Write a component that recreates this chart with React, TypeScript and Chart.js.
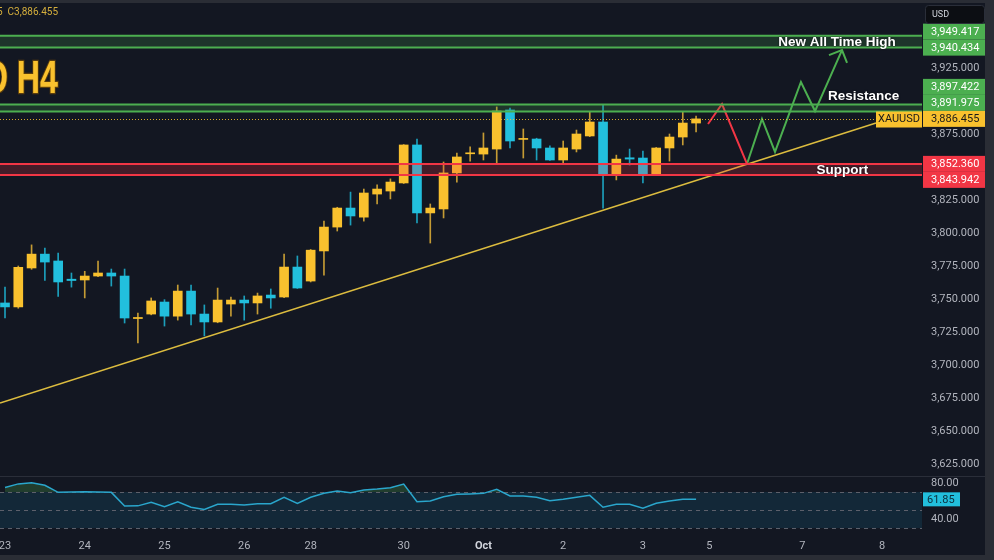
import React, { useEffect, useRef } from "react";
import { Chart, registerables } from "chart.js";

Chart.register(...registerables);

// ---------------- data ----------------
const dayTickIndex = [0, 6, 12, 18, 23, 30, 36, 42, 48, 53, 60, 66];
const dayTickLabels = ["23", "24", "25", "26", "28", "30", "Oct", "2", "3", "5", "7", "8"];
const priceTickValues = [3625, 3650, 3675, 3700, 3725, 3750, 3775, 3800, 3825, 3850, 3875, 3900, 3925, 3950];

const opens = [3747, 3744, 3773.5, 3784, 3778.8, 3765, 3764.4, 3767.4, 3769.7, 3767.4,
  3735.2, 3738.6, 3747.7, 3737, 3756, 3738.6, 3732.6, 3746.2, 3749.2, 3747,
  3753, 3751.5, 3774.2, 3763.6, 3786.4, 3804.5, 3818.9, 3812, 3829.5, 3831.8,
  3837.9, 3866.7, 3815.2, 3818.2, 3845.5, 3860, 3859.8, 3863.6, 3893.2, 3870.9,
  3871.2, 3864.4, 3855.3, 3863.6, 3873.5, 3884.1, 3844.7, 3857, 3856.8, 3843.9,
  3864.4, 3872.7, 3883.3];
const highs = [3759, 3775, 3791, 3788.6, 3784.8, 3769.7, 3771, 3778.8, 3772.7, 3772.7,
  3739.4, 3750.8, 3749.5, 3760.6, 3760.6, 3745.5, 3758.3, 3751.5, 3752.3, 3754.5,
  3757.6, 3784, 3782.6, 3787.5, 3809, 3819.5, 3831, 3833.3, 3836.4, 3841,
  3867, 3871.2, 3822, 3853.8, 3860.6, 3865.2, 3875.8, 3895.5, 3894.7, 3878.8,
  3871.8, 3866, 3869.7, 3878, 3891.7, 3897.5, 3859, 3863.6, 3862, 3864.8,
  3875, 3891.7, 3888.6];
const lows = [3735.6, 3743, 3772.5, 3764, 3752, 3759, 3750.8, 3767, 3759.8, 3731.8,
  3716.7, 3738, 3729.5, 3734, 3730.3, 3722, 3732, 3737, 3734, 3738.6,
  3743, 3751, 3758, 3762.9, 3768, 3801.5, 3806, 3809, 3822, 3825.8,
  3837.5, 3807.6, 3792.4, 3811.4, 3838.6, 3854.5, 3855.3, 3853, 3864.4, 3856.8,
  3855.3, 3855, 3852.3, 3861.4, 3873, 3818.9, 3840.2, 3851.5, 3837.9, 3843.5,
  3854.5, 3866.7, 3876.5];
const closes = [3744, 3774, 3784, 3778, 3762.9, 3764, 3767.4, 3769.7, 3767.4, 3735.6,
  3736, 3748.5, 3737, 3756, 3738.6, 3732.6, 3749.2, 3749.2, 3747, 3752.3,
  3750.8, 3774.2, 3758.3, 3787, 3804.5, 3818.9, 3812.9, 3830.3, 3833.3, 3838.6,
  3866.7, 3815.2, 3818.9, 3845.5, 3857.6, 3860.6, 3864.4, 3892.4, 3869.7, 3871.5,
  3864.4, 3855.3, 3864.4, 3875, 3884.1, 3843.9, 3856, 3856, 3843.9, 3864.4,
  3872.7, 3883.3, 3886.455];
const rsiValues = [75, 79, 80.4, 77.5, 69.6, 70, 70.4, 70, 69.6, 54.4,
  54.6, 58.5, 53.7, 59.2, 53, 50.7, 56.3, 56.3, 55.6, 57,
  57, 64.1, 57.4, 64.1, 68.5, 71.1, 69.3, 72.2, 73.3, 74.8,
  78.9, 59.2, 60, 64.8, 67.4, 67.8, 68.5, 73, 65.6, 65.6,
  64.1, 60.4, 61.9, 64.1, 66.3, 53, 56.3, 56.3, 51.9, 57.4,
  60, 61.9, 61.85];

const trendIdx = [-0.376, 65.54];
const trendPrice = [3671.2, 3883.3];
const redPathIdx = [52.9, 53.95, 55.83];
const redPathPrice = [3882.6, 3897.7, 3852.3];
const greenPathIdx = [55.83, 56.96, 57.94, 59.89, 60.95, 62.98];
const greenPathPrice = [3852.3, 3886.4, 3861.4, 3914.4, 3892.4, 3938.6];
const arrowIdx = [62.0, 62.98, 63.36];
const arrowPrice = [3934.8, 3938.6, 3928.8];

const athZone = [3949.417, 3940.434];
const resistanceZone = [3897.422, 3891.975];
const supportZone = [3852.36, 3843.942];
const lastPrice = 3886.455;
const lastRsi = 61.85;
const rsiLevels = [70, 50, 30];
const rsiAxisLabels = [80, 40];

const noteTexts = ["New All Time High", "Resistance", "Support"];
const noteIdx = [62.6, 64.6, 63.0];
const notePrice = [3944.7, 3903.8, 3847.7];

// ---------------- style ----------------
const BG = "#131722";
const UP = "#f9c12e";
const DOWN = "#22bfdd";
const UP_WICK = "#c49b34";
const DOWN_WICK = "#1c9fbb";
const GREEN = "#4caf50";
const RED = "#f23645";
const FONT = 'Roboto, "Liberation Sans", sans-serif';
const AXIS_TEXT = "#b2b5be";

const fmtPrice = (v: number) =>
  v.toLocaleString("en-US", { minimumFractionDigits: 3, maximumFractionDigits: 3 });

const overlayPlugin = {
  id: "overlay",
  beforeDraw(chart: any) {
    const { ctx, width, height } = chart;
    ctx.save();
    ctx.fillStyle = BG;
    ctx.fillRect(0, 0, width, height);
    ctx.restore();
  },
  beforeDatasetsDraw(chart: any) {
    const { ctx, chartArea } = chart;
    const r = chart.scales.rsi;
    const L = chartArea.left, R = chartArea.right;
    ctx.save();
    const y70 = r.getPixelForValue(rsiLevels[0]);
    const y30 = r.getPixelForValue(rsiLevels[2]);
    ctx.fillStyle = "rgba(20,140,190,0.15)";
    ctx.fillRect(L, y70, R - L, y30 - y70);
    ctx.strokeStyle = "#5d606b";
    ctx.lineWidth = 1;
    ctx.setLineDash([4, 4]);
    rsiLevels.forEach((lv) => {
      const y = Math.round(r.getPixelForValue(lv)) + 0.5;
      ctx.beginPath();
      ctx.moveTo(L, y);
      ctx.lineTo(R, y);
      ctx.stroke();
    });
    ctx.setLineDash([]);
    // pane separator
    ctx.strokeStyle = "#2a2e39";
    ctx.beginPath();
    ctx.moveTo(0, 476.5);
    ctx.lineTo(chart.width, 476.5);
    ctx.stroke();
    ctx.restore();
  },
  afterDatasetsDraw(chart: any) {
    const { ctx, chartArea } = chart;
    const px = chart.scales.x, py = chart.scales.y;
    const L = chartArea.left, R = chartArea.right;
    ctx.save();
    const zone = (vals: number[], line: string, fill: string) => {
      const y1 = py.getPixelForValue(vals[0]);
      const y2 = py.getPixelForValue(vals[1]);
      ctx.fillStyle = fill;
      ctx.fillRect(L, y1, R - L, y2 - y1);
      ctx.strokeStyle = line;
      ctx.lineWidth = 2;
      [y1, y2].forEach((y) => {
        ctx.beginPath();
        ctx.moveTo(L, y);
        ctx.lineTo(R, y);
        ctx.stroke();
      });
    };
    zone(athZone, GREEN, "rgba(76,175,80,0.2)");
    zone(resistanceZone, GREEN, "rgba(76,175,80,0.2)");
    zone(supportZone, RED, "rgba(242,54,69,0.22)");

    // dotted last price line
    const yl = Math.round(py.getPixelForValue(lastPrice)) + 0.5;
    ctx.strokeStyle = "rgba(249,193,46,0.85)";
    ctx.lineWidth = 1;
    ctx.setLineDash([1, 2]);
    ctx.beginPath();
    ctx.moveTo(L, yl);
    ctx.lineTo(R - 46, yl);
    ctx.stroke();
    ctx.setLineDash([]);

    // XAUUSD label
    ctx.fillStyle = UP;
    ctx.fillRect(R - 46, yl - 8, 46, 16);
    ctx.fillStyle = "#1a1a1a";
    ctx.font = `11px ${FONT}`;
    ctx.textAlign = "center";
    ctx.textBaseline = "middle";
    ctx.fillText("XAUUSD", R - 23, yl);

    // notes
    ctx.font = `bold 13.5px "Liberation Sans", Arial, sans-serif`;
    ctx.fillStyle = "#ffffff";
    ctx.shadowColor = "rgba(0,0,0,0.7)";
    ctx.shadowBlur = 2;
    noteTexts.forEach((t, i) => {
      ctx.fillText(t, px.getPixelForValue(noteIdx[i]), py.getPixelForValue(notePrice[i]));
    });
    ctx.restore();
  },
  afterDraw(chart: any) {
    const { ctx, chartArea, width, height } = chart;
    const py = chart.scales.y, r = chart.scales.rsi;
    const R = chartArea.right;
    ctx.save();
    // price axis labels with overlap resolution
    const labels = [
      { v: athZone[0], c: GREEN, t: "#fff" },
      { v: athZone[1], c: GREEN, t: "#fff" },
      { v: resistanceZone[0], c: GREEN, t: "#fff" },
      { v: resistanceZone[1], c: GREEN, t: "#fff" },
      { v: lastPrice, c: UP, t: "#1a1a1a", anchor: true },
      { v: supportZone[0], c: RED, t: "#fff" },
      { v: supportZone[1], c: RED, t: "#fff" },
    ].map((l: any) => ({ ...l, y: py.getPixelForValue(l.v) }));
    const H = 16;
    const a = labels.findIndex((l: any) => l.anchor);
    for (let k = a - 1; k >= 0; k--) labels[k].y = Math.min(labels[k].y, labels[k + 1].y - H);
    for (let k = a + 1; k < labels.length; k++) labels[k].y = Math.max(labels[k].y, labels[k - 1].y + H);
    ctx.font = `11px ${FONT}`;
    ctx.textBaseline = "middle";
    ctx.textAlign = "left";
    labels.forEach((l: any) => {
      ctx.fillStyle = l.c;
      ctx.fillRect(R + 1, l.y - H / 2, 62, H);
      ctx.fillStyle = l.t;
      ctx.fillText(fmtPrice(l.v), R + 9, l.y + 0.5);
    });
    // rsi axis
    ctx.fillStyle = AXIS_TEXT;
    rsiAxisLabels.forEach((v) => {
      ctx.fillText(v.toFixed(2), R + 9, r.getPixelForValue(v));
    });
    const yr = r.getPixelForValue(lastRsi);
    ctx.fillStyle = DOWN;
    ctx.fillRect(R + 1, yr - 7, 37, 14);
    ctx.fillStyle = "#0d2d3a";
    ctx.fillText(lastRsi.toFixed(2), R + 5, yr + 0.5);

    // title (condensed via horizontal scale)
    ctx.save();
    ctx.translate(58, 93);
    ctx.scale(0.7, 1);
    ctx.font = `bold 46px "Liberation Sans", Arial, sans-serif`;
    ctx.textAlign = "right";
    ctx.textBaseline = "alphabetic";
    ctx.lineWidth = 2.5;
    ctx.strokeStyle = "#5a3d0c";
    ctx.strokeText("XAUUSD H4", 0, 0);
    ctx.fillStyle = "#f9c12e";
    ctx.fillText("XAUUSD H4", 0, 0);
    ctx.restore();

    // OHLC text
    ctx.font = `10px ${FONT}`;
    ctx.textAlign = "left";
    ctx.textBaseline = "middle";
    ctx.fillStyle = "#d4ae3c";
    ctx.fillText("5  C3,886.455", -3, 12);

    // USD box
    ctx.fillStyle = "#0c0e13";
    ctx.strokeStyle = "#2a2e39";
    ctx.lineWidth = 1;
    ctx.beginPath();
    ctx.roundRect(925.5, 5.5, 59, 18, 3);
    ctx.fill();
    ctx.stroke();
    ctx.fillStyle = "#d1d4dc";
    ctx.font = `9px ${FONT}`;
    ctx.fillText("USD", 932, 14.5);

    // window borders
    ctx.fillStyle = "#2a2d35";
    ctx.fillRect(0, 0, width, 3);
    ctx.fillRect(985, 0, width - 985, height);
    ctx.fillRect(0, 555, width, height - 555);
    ctx.restore();
  },
};

export default function App() {
  const canvasRef = useRef<HTMLCanvasElement | null>(null);

  useEffect(() => {
    const canvas = canvasRef.current;
    if (!canvas) return;
    const idx = opens.map((_, i) => i);
    const isUp = idx.map((i) => closes[i] >= opens[i]);

    const chart = new Chart(canvas, {
      type: "bar",
      data: {
        datasets: [
          {
            type: "line",
            label: "trend",
            data: trendIdx.map((x, i) => ({ x, y: trendPrice[i] })),
            borderColor: "#dcbc3f",
            borderWidth: 1.6,
            pointRadius: 0,
            order: 5,
          } as any,
          {
            type: "bar",
            label: "wick",
            data: idx.map((i) => ({ x: i, y: [lows[i], highs[i]] })),
            backgroundColor: isUp.map((u) => (u ? UP_WICK : DOWN_WICK)),
            barThickness: 1,
            grouped: false,
            order: 4,
          } as any,
          {
            type: "bar",
            label: "body",
            data: idx.map((i) => ({ x: i, y: [opens[i], closes[i]] })),
            backgroundColor: isUp.map((u) => (u ? UP : DOWN)),
            barThickness: 9,
            minBarLength: 1,
            grouped: false,
            order: 3,
          } as any,
          {
            type: "line",
            label: "RSI",
            yAxisID: "rsi",
            data: idx.map((i) => ({ x: i, y: rsiValues[i] })),
            borderColor: "#2aa6cc",
            borderWidth: 1.5,
            pointRadius: 0,
            fill: { target: { value: 70 }, above: "rgba(76,175,80,0.25)", below: "rgba(0,0,0,0)" },
            order: 2,
          } as any,
          {
            type: "line",
            label: "down path",
            data: redPathIdx.map((x, i) => ({ x, y: redPathPrice[i] })),
            borderColor: RED,
            borderWidth: 2,
            pointRadius: 0,
            order: 1,
          } as any,
          {
            type: "line",
            label: "up path",
            data: greenPathIdx.map((x, i) => ({ x, y: greenPathPrice[i] })),
            borderColor: GREEN,
            borderWidth: 2,
            pointRadius: 0,
            order: 1,
          } as any,
          {
            type: "line",
            label: "arrow",
            data: arrowIdx.map((x, i) => ({ x, y: arrowPrice[i] })),
            borderColor: GREEN,
            borderWidth: 2,
            pointRadius: 0,
            order: 1,
          } as any,
        ],
      },
      options: {
        responsive: false,
        animation: false,
        devicePixelRatio: 1,
        layout: { padding: { top: 3, left: 0, right: 0, bottom: 0 } },
        plugins: { legend: { display: false }, tooltip: { enabled: false } },
        scales: {
          x: {
            type: "linear",
            min: -0.376,
            max: 69.0,
            offset: false,
            grid: { display: false, drawTicks: false },
            border: { display: false },
            ticks: {
              autoSkip: false,
              maxRotation: 0,
              padding: 3,
              color: (ctx: any) => (dayTickLabels[ctx.index] === "Oct" ? "#d1d4dc" : AXIS_TEXT),
              font: (ctx: any) => ({
                family: FONT,
                size: 11,
                weight: dayTickLabels[ctx.index] === "Oct" ? "bold" : "normal",
              }),
              callback: (_v: any, i: number) => dayTickLabels[i],
            },
            afterBuildTicks: (s: any) => {
              s.ticks = dayTickIndex.map((v) => ({ value: v }));
            },
            afterFit: (s: any) => {
              s.height = 23;
              s.paddingLeft = 0;
              s.paddingRight = 0;
            },
          },
          y: {
            type: "linear",
            position: "right",
            min: 3569.7,
            max: 3974.24,
            grid: { display: false, drawTicks: false },
            border: { display: false },
            ticks: {
              padding: 9,
              color: AXIS_TEXT,
              font: { family: FONT, size: 11 },
              callback: (v: any) => fmtPrice(Number(v)),
            },
            afterBuildTicks: (s: any) => {
              s.ticks = priceTickValues.map((v) => ({ value: v }));
            },
            afterFit: (s: any) => {
              s.width = 72;
              s.paddingTop = 0;
              s.paddingBottom = 0;
            },
          },
          rsi: {
            type: "linear",
            position: "right",
            display: false,
            min: 20,
            max: 613.33,
          },
        },
      } as any,
      plugins: [overlayPlugin],
    });
    return () => chart.destroy();
  }, []);

  return (
    <div style={{ position: "fixed", left: 0, top: 0, width: 994, height: 560, background: BG }}>
      <canvas ref={canvasRef} width={994} height={560} style={{ display: "block" }} />
    </div>
  );
}
